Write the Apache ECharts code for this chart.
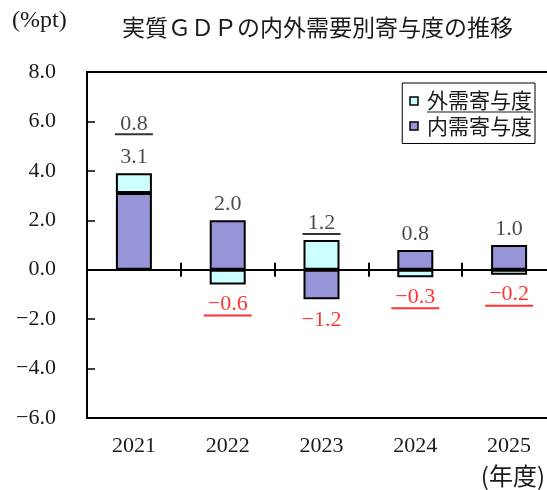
<!DOCTYPE html>
<html>
<head>
<meta charset="utf-8">
<script src="https://cdn.jsdelivr.net/npm/echarts@6/dist/echarts.min.js"></script>
<style>
html,body{margin:0;padding:0;background:#fff;}
#chart{width:547px;height:490px;}
</style>
</head>
<body>
<div id="chart"></div>
<script>
// ---- data ----
const categories = ['2021', '2022', '2023', '2024', '2025'];
const domestic = [3.1, 2.0, -1.2, 0.8, 1.0];   // 内需寄与度
const external = [0.8, -0.6, 1.2, -0.3, -0.2]; // 外需寄与度
const yMin = -6, yMax = 8, yInterval = 2;
const titleText = '実質ＧＤＰの内外需要別寄与度の推移';
const unitText = '(%pt)';
const xUnitText = '(年度)';
const nameExternal = '外需寄与度';
const nameDomestic = '内需寄与度';

const NUM_FONT = '"Liberation Serif", "Noto Sans CJK JP", serif';
const CJK_FONT = '"Noto Sans CJK JP", "Liberation Serif", sans-serif';

function fmt(v) {
  return (v < 0 ? '\u2212' : '') + Math.abs(v).toFixed(1);
}

// label anchor values derived from the stacked data
const posSum = categories.map((c, i) => Math.max(0, domestic[i]) + Math.max(0, external[i]));
const negSum = categories.map((c, i) => Math.min(0, domestic[i]) + Math.min(0, external[i]));

const topLabels = categories.map((c, i) => {
  const parts = [];
  if (external[i] > 0) parts.push('{ve|' + fmt(external[i]) + '}\n{u| }');
  if (domestic[i] > 0) {
    if (parts.length) parts.push('{sp| }');
    parts.push('{v|' + fmt(domestic[i]) + '}');
  }
  return { value: posSum[i], label: { formatter: parts.join('\n') } };
});
const bottomLabels = categories.map((c, i) => {
  const parts = [];
  if (domestic[i] < 0) parts.push('{n|' + fmt(domestic[i]) + '}');
  if (external[i] < 0) parts.push('{ne|' + fmt(external[i]) + '}\n{ur| }');
  return { value: negSum[i], label: { formatter: parts.join('\n') } };
});

const richStyles = {
  v: { fontFamily: NUM_FONT, fontSize: 22, lineHeight: 22, color: '#1a1a1a' },
  ve: { fontFamily: NUM_FONT, fontSize: 22, lineHeight: 19, color: '#1a1a1a' },
  n: { fontFamily: NUM_FONT, fontSize: 22, lineHeight: 22, color: '#ff0000' },
  ne: { fontFamily: NUM_FONT, fontSize: 22, lineHeight: 20, color: '#ff0000' },
  u: { fontSize: 1, width: 38, height: 2, lineHeight: 2, backgroundColor: '#000' },
  ur: { fontSize: 1, width: 48, height: 2, lineHeight: 2, backgroundColor: '#ff0000' },
  sp: { fontSize: 1, height: 11, lineHeight: 11 }
};

const chart = echarts.init(document.getElementById('chart'), null, { renderer: 'canvas' });

const option = {
  backgroundColor: '#fff',
  animation: false,
  title: {
    text: titleText,
    left: 117,
    top: 11,
    textStyle: { fontFamily: CJK_FONT, fontSize: 23, fontWeight: 'normal', color: '#1a1a1a' }
  },
  graphic: [
    { type: 'text', left: 12, top: 9, style: { text: unitText, font: '24px ' + NUM_FONT, fill: '#1a1a1a' } },
    { type: 'text', right: 2, top: 464, style: { text: xUnitText, font: '24px ' + CJK_FONT, fill: '#1a1a1a' } }
  ],
  legend: {
    orient: 'vertical',
    right: 12,
    top: 83,
    data: [nameExternal, nameDomestic],
    icon: 'rect',
    itemWidth: 8,
    itemHeight: 8,
    itemGap: 3,
    padding: [7, 2, 7, 7],
    backgroundColor: '#fff',
    borderColor: '#000',
    borderWidth: 1,
    itemStyle: { borderColor: '#000', borderWidth: 1.5 },
    formatter: function (name) {
      return name === nameExternal ? '{t|' + name + '}\n{lu| }' : '{t|' + name + '}';
    },
    textStyle: {
      fontFamily: CJK_FONT,
      fontSize: 21,
      color: '#1a1a1a',
      padding: [0, 0, 0, 4],
      rich: {
        t: { fontFamily: CJK_FONT, fontSize: 21, lineHeight: 22, color: '#1a1a1a' },
        lu: { fontSize: 1, width: 106, height: 1, lineHeight: 1, backgroundColor: '#1a1a1a' }
      }
    }
  },
  grid: {
    left: 87,
    right: -9,
    top: 72,
    bottom: 72,
    show: true,
    borderColor: '#000',
    borderWidth: 2,
    containLabel: false,
    outerBoundsMode: 'none'
  },
  xAxis: [
    {
      // category axis carrying the bars and the labels at the bottom of the frame
      type: 'category',
      data: categories,
      position: 'bottom',
      axisLine: { show: false, onZero: false },
      axisTick: { show: false },
      axisLabel: { margin: 17, fontFamily: NUM_FONT, fontSize: 22, color: '#1a1a1a' },
      splitLine: { show: false }
    },
    {
      // zero line with upward ticks
      type: 'category',
      data: categories,
      position: 'top',
      axisLine: { show: true, onZero: true, onZeroAxisIndex: 0, lineStyle: { color: '#000', width: 2 } },
      axisTick: { show: true, length: 7, lineStyle: { color: '#000', width: 2 } },
      axisLabel: { show: false },
      splitLine: { show: false }
    },
    {
      // downward ticks on the zero line
      type: 'category',
      data: categories,
      position: 'top',
      axisLine: { show: false, onZero: true, onZeroAxisIndex: 0 },
      axisTick: { show: true, inside: true, length: 7, lineStyle: { color: '#000', width: 2 } },
      axisLabel: { show: false },
      splitLine: { show: false }
    }
  ],
  yAxis: {
    type: 'value',
    min: yMin,
    max: yMax,
    interval: yInterval,
    axisLine: { show: true, lineStyle: { color: '#000', width: 2 } },
    axisTick: { show: true, inside: true, length: 8, lineStyle: { color: '#000', width: 1.5 } },
    axisLabel: { margin: 31, fontFamily: NUM_FONT, fontSize: 22, color: '#1a1a1a', formatter: fmt },
    splitLine: { show: false }
  },
  series: [
    {
      name: nameDomestic,
      type: 'bar',
      stack: 'total',
      barWidth: 36,
      data: domestic,
      itemStyle: { color: '#9595d8', borderColor: '#000', borderWidth: 2 },
      z: 2
    },
    {
      name: nameExternal,
      type: 'bar',
      stack: 'total',
      barWidth: 36,
      data: external,
      itemStyle: { color: '#ccffff', borderColor: '#000', borderWidth: 2 },
      z: 2
    },
    {
      name: 'topLabels',
      type: 'scatter',
      symbolSize: 0,
      silent: true,
      data: topLabels,
      label: { show: true, position: 'top', distance: 5, align: 'center', rich: richStyles },
      z: 5
    },
    {
      name: 'bottomLabels',
      type: 'scatter',
      symbolSize: 0,
      silent: true,
      data: bottomLabels,
      label: { show: true, position: 'bottom', distance: 10, align: 'center', rich: richStyles },
      z: 5
    }
  ]
};
chart.setOption(option);
</script>
</body>
</html>
